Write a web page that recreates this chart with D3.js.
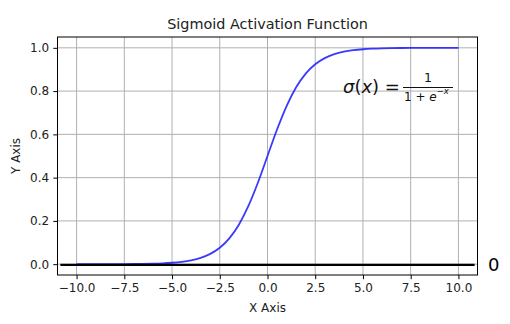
<!DOCTYPE html>
<html>
<head>
<meta charset="utf-8">
<script src="https://cdn.jsdelivr.net/npm/d3@7"></script>
<style>
  html, body { margin: 0; padding: 0; background: #fff; }
  svg { display: block; font-family: "DejaVu Sans", sans-serif; }
</style>
</head>
<body>
<svg id="chart" width="510" height="324"></svg>
<script>
// Sampled points of the sigmoid curve
const xs = [-10, -9.5, -9, -8.5, -8, -7.5, -7, -6.5, -6, -5.5, -5, -4.5, -4, -3.5, -3, -2.5, -2, -1.5, -1, -0.5,
            0, 0.5, 1, 1.5, 2, 2.5, 3, 3.5, 4, 4.5, 5, 5.5, 6, 6.5, 7, 7.5, 8, 8.5, 9, 9.5, 10];
const ys = [0.00005, 0.00007, 0.00012, 0.0002, 0.00034, 0.00055, 0.00091, 0.0015, 0.00247, 0.00407, 0.00669,
            0.01099, 0.01799, 0.02931, 0.04743, 0.07586, 0.1192, 0.18243, 0.26894, 0.37754,
            0.5, 0.62246, 0.73106, 0.81757, 0.8808, 0.92414, 0.95257, 0.97069, 0.98201, 0.98901, 0.99331,
            0.99593, 0.99753, 0.9985, 0.99909, 0.99945, 0.99966, 0.9998, 0.99988, 0.99993, 0.99995];
const xTicks = [-10, -7.5, -5, -2.5, 0, 2.5, 5, 7.5, 10];
const yTicks = [0, 0.2, 0.4, 0.6, 0.8, 1.0];
const zeroLineX = [-10.85, 10.85];
const zeroLineY = 0;

const svg = d3.select("#chart");
const plotLeft = 57.5, plotRight = 477.5, plotTop = 37, plotBottom = 275;

const x = d3.scaleLinear().domain([-11, 11]).range([plotLeft, plotRight]);
const y = d3.scaleLinear().domain([-0.05, 1.05]).range([plotBottom, plotTop]);

const fmt = d => d3.format(".1f")(d).replace("-", "\u2212");

// grid
const grid = svg.append("g").attr("stroke", "#b0b0b0").attr("stroke-width", 1);
xTicks.forEach(t => grid.append("line")
  .attr("x1", x(t)).attr("x2", x(t)).attr("y1", plotTop).attr("y2", plotBottom));
yTicks.forEach(t => grid.append("line")
  .attr("x1", plotLeft).attr("x2", plotRight).attr("y1", y(t)).attr("y2", y(t)));

// curve
const pts = xs.map((v, i) => [v, ys[i]]);
svg.append("path")
  .datum(pts)
  .attr("fill", "none")
  .attr("stroke", "#1f1fff")
  .attr("stroke-opacity", 0.88)
  .attr("stroke-width", 1.8)
  .attr("d", d3.line().x(d => x(d[0])).y(d => y(d[1])).curve(d3.curveMonotoneX));

// horizontal line at zero (sits a hair below the zero gridline)
svg.append("line")
  .attr("transform", "translate(0,0.7)")
  .attr("x1", x(zeroLineX[0])).attr("x2", x(zeroLineX[1]))
  .attr("y1", y(zeroLineY)).attr("y2", y(zeroLineY))
  .attr("stroke", "#000").attr("stroke-width", 2.4);

// axes
const xAxis = d3.axisBottom(x).tickValues(xTicks).tickFormat(fmt).tickSize(4.2).tickPadding(4.2);
const yAxis = d3.axisLeft(y).tickValues(yTicks).tickFormat(fmt).tickSize(4.2).tickPadding(4.2);

const gx = svg.append("g").attr("transform", `translate(0,${plotBottom})`).call(xAxis);
const gy = svg.append("g").attr("transform", `translate(${plotLeft},0)`).call(yAxis);
[gx, gy].forEach(g => {
  g.select(".domain").remove();
  g.selectAll(".tick line").attr("stroke", "#000").attr("stroke-width", 1);
  g.selectAll(".tick text").attr("fill", "#222").style("font-size", "12px")
    .style("font-family", "'DejaVu Sans', sans-serif");
});

// frame
svg.append("rect")
  .attr("x", plotLeft).attr("y", plotTop).attr("width", plotRight - plotLeft).attr("height", plotBottom - plotTop)
  .attr("fill", "none").attr("stroke", "#000").attr("stroke-width", 1);

// titles
svg.append("text").attr("x", (plotLeft + plotRight) / 2).attr("y", 28.5)
  .attr("text-anchor", "middle").style("font-size", "14.4px").attr("fill", "#222")
  .text("Sigmoid Activation Function");
svg.append("text").attr("x", (plotLeft + plotRight) / 2).attr("y", 311.5)
  .attr("text-anchor", "middle").style("font-size", "12px").attr("fill", "#222")
  .text("X Axis");
svg.append("text")
  .attr("transform", `translate(19.5,${(plotTop + plotBottom) / 2}) rotate(-90)`)
  .attr("text-anchor", "middle").style("font-size", "12px").attr("fill", "#222")
  .text("Y Axis");

// formula annotation
const f = svg.append("g").attr("fill", "#111");
const lhs = f.append("text").attr("x", 343).attr("y", 93).style("font-size", "18px");
lhs.append("tspan").style("font-style", "italic").text("σ");
lhs.append("tspan").text("(");
lhs.append("tspan").style("font-style", "italic").text("x");
lhs.append("tspan").text(") =");
f.append("text").attr("x", 428).attr("y", 82).attr("text-anchor", "middle")
  .style("font-size", "12.5px").text("1");
f.append("line").attr("x1", 403).attr("x2", 453).attr("y1", 87.5).attr("y2", 87.5)
  .attr("stroke", "#111").attr("stroke-width", 1);
const den = f.append("text").attr("x", 404).attr("y", 101).style("font-size", "12px");
den.append("tspan").text("1 + ");
den.append("tspan").style("font-style", "italic").text("e");
den.append("tspan").attr("dy", -7).style("font-size", "8.5px").text("\u2212");
den.append("tspan").style("font-size", "8.5px").style("font-style", "italic").text("x");

// label beside the zero line
svg.append("text").attr("x", 488).attr("y", 271)
  .style("font-size", "18px").attr("fill", "#000").text("0");
</script>
</body>
</html>
